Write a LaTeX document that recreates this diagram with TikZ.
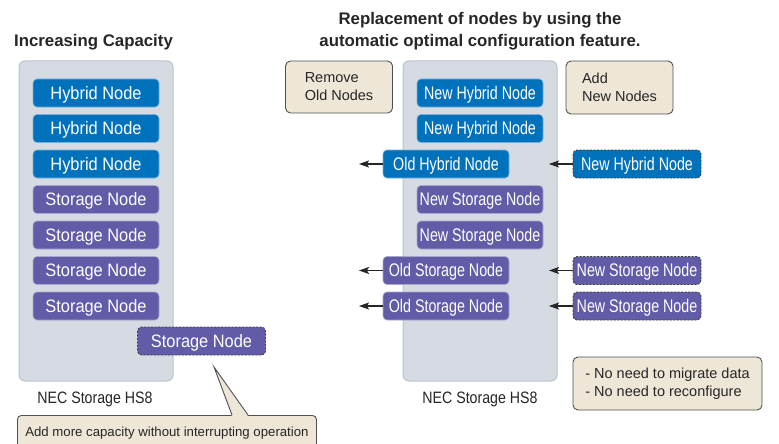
\documentclass[tikz,border=0pt]{standalone}
\usepackage{fontspec}
\setmainfont{Liberation Sans}
\newfontfamily\condfont[FakeStretch=0.78]{Liberation Sans}
\newfontfamily\semifont[FakeStretch=0.91]{Liberation Sans}
\newfontfamily\capfont[FakeStretch=0.86]{Liberation Sans}
\usetikzlibrary{arrows.meta}
\definecolor{hyb}{RGB}{0,114,187}
\definecolor{sto}{RGB}{98,91,167}
\definecolor{cont}{RGB}{214,219,227}
\definecolor{contb}{RGB}{183,194,207}
\definecolor{beige}{RGB}{238,231,216}
\definecolor{beigeb}{RGB}{80,80,80}
\tikzset{
  nodebase/.style={rounded corners=4pt, minimum width=126pt, minimum height=28pt, inner sep=0pt, text=white, line width=0.6pt, text height=12.9pt, text depth=0pt},
  hnode/.style={nodebase, fill=hyb, draw=hyb!55!white, font=\semifont\fontsize{18}{20}\selectfont},
  snode/.style={nodebase, fill=sto, draw=sto!55!white, font=\semifont\fontsize{18}{20}\selectfont},
  hcnode/.style={hnode, font=\condfont\fontsize{18.3}{20}\selectfont},
  scnode/.style={snode, font=\condfont\fontsize{18.3}{20}\selectfont},
  newnode/.style={draw=black!75, line width=0.9pt, dash pattern=on 2pt off 1.5pt, minimum width=128pt},
  container/.style={draw=contb, fill=cont, line width=1pt, rounded corners=6pt, minimum width=154pt, minimum height=320pt, inner sep=0pt},
  notebox/.style={draw=beigeb, fill=beige, line width=0.9pt, rounded corners=5pt, inner sep=0pt, align=left, font=\fontsize{14.5}{18}\selectfont, text=black!85},
  title/.style={font=\bfseries\fontsize{16.8}{22}\selectfont, text=black!85, align=center},
  caption/.style={font=\capfont\fontsize{16.5}{18}\selectfont, text=black!85},
  arr/.style={-{Stealth[length=10pt,width=7pt,inset=2pt]}, line width=1.2pt, black!85}
}
\begin{document}
\begin{tikzpicture}[x=1pt,y=-1pt]
\useasboundingbox (0,0) rectangle (779,444);
\clip (0,0) rectangle (779,444);

% ---- left part ----
\node[title] (tl) at (93.5,42) {Increasing Capacity};
\node[container] (cl) at (96,221) {};
\node[hnode] (l1) at (96,93) {Hybrid Node};
\node[hnode] (l2) at (96,128.5) {Hybrid Node};
\node[hnode] (l3) at (96,164) {Hybrid Node};
\node[snode] (l4) at (96,199.5) {Storage Node};
\node[snode] (l5) at (96,235) {Storage Node};
\node[snode] (l6) at (96,270.5) {Storage Node};
\node[snode] (l7) at (96,306) {Storage Node};
\node[snode, newnode] (l8) at (201.5,341) {Storage Node};
\node[caption] (capl) at (95,399) {NEC Storage HS8};

\node[notebox, anchor=north west, minimum width=299pt, minimum height=36pt, rounded corners=4pt,
      font=\fontsize{13.2}{15}\selectfont, align=center] (call) at (17,415) {Add more capacity without interrupting operation};
\fill[beige] (232,416.2) -- (214,367) -- (248,416.2) -- cycle;
\draw[beigeb, line width=0.9pt, line join=miter] (232,415) -- (214,367) -- (248,415);

% ---- right part ----
\node[title] (tr) at (480,31) {Replacement of nodes by using the\\automatic optimal configuration feature.};
\node[container] (cr) at (480,221) {};
\node[notebox, minimum width=107pt, minimum height=52pt] (rem) at (339,87) {Remove\\Old Nodes};
\node[notebox, minimum width=107pt, minimum height=53pt] (add) at (619.5,87.5) {Add\\New Nodes};

\node[hcnode] (r1) at (480,93) {New Hybrid Node};
\node[hcnode] (r2) at (480,128.5) {New Hybrid Node};
\node[hcnode] (r3) at (446,164) {Old Hybrid Node};
\node[scnode] (r4) at (480,199.5) {New Storage Node};
\node[scnode] (r5) at (480,235) {New Storage Node};
\node[scnode] (r6) at (446,270.5) {Old Storage Node};
\node[scnode] (r7) at (446,306) {Old Storage Node};

\node[hcnode, newnode] (n3) at (637,164) {New Hybrid Node};
\node[scnode, newnode] (n6) at (637,270.5) {New Storage Node};
\node[scnode, newnode] (n7) at (637,306) {New Storage Node};

\coordinate (o3) at (359,164);
\coordinate (o6) at (359,270.5);
\coordinate (o7) at (359,306);
\coordinate (i3) at (549,164);
\coordinate (i6) at (549,270.5);
\coordinate (i7) at (549,306);

\draw[arr] (r3.west) -- (o3);
\draw[arr] (r6.west) -- (o6);
\draw[arr] (r7.west) -- (o7);
\draw[arr] (n3.west) -- (i3);
\draw[arr] (n6.west) -- (i6);
\draw[arr] (n7.west) -- (i7);

\node[caption] (capr) at (480,399) {NEC Storage HS8};
\node[notebox, minimum width=189pt, minimum height=53pt] (ben) at (667.5,383.5) {- No need to migrate data\\- No need to reconfigure};
\end{tikzpicture}
\end{document}
